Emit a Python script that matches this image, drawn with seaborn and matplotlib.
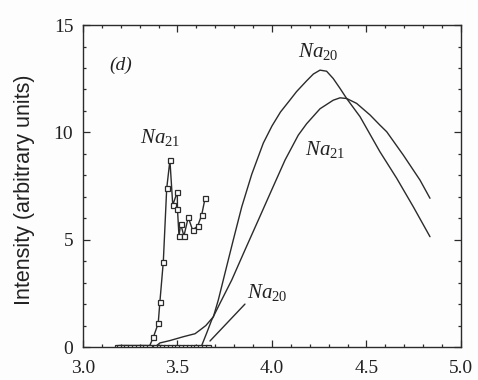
import numpy as np
import pandas as pd
import matplotlib
matplotlib.use("Agg")
import matplotlib.pyplot as plt
from matplotlib.ticker import MultipleLocator
import seaborn as sns

# Measured spectra (open squares)
na21_exp_x = [3.19, 3.21, 3.23, 3.25, 3.27, 3.29, 3.31, 3.33, 3.35, 3.372, 3.398, 3.407,
              3.425, 3.443, 3.46, 3.475, 3.499, 3.50, 3.508, 3.517, 3.534, 3.557, 3.58,
              3.607, 3.628, 3.646]
na21_exp_y = [0, 0, 0, 0, 0, 0, 0, 0, 0, 0.45, 1.10, 2.11,
              3.97, 7.39, 8.70, 6.61, 7.23, 6.41, 5.17, 5.73, 5.17, 6.04, 5.45,
              5.64, 6.15, 6.93]

na20_exp_x = [3.18, 3.20, 3.22, 3.24, 3.26, 3.28, 3.30, 3.32, 3.34, 3.36, 3.38, 3.40, 3.42,
              3.44, 3.46, 3.48, 3.50, 3.52, 3.54, 3.56, 3.58, 3.60, 3.62, 3.64, 3.66]
na20_exp_y = [0] * len(na20_exp_x)

# Calculated spectra (solid curves)
na20_th_x = [3.38, 3.407, 3.46, 3.531, 3.593, 3.619, 3.65, 3.69, 3.716, 3.751, 3.795,
             3.840, 3.893, 3.954, 4.00, 4.045, 4.09, 4.13, 4.183, 4.219, 4.254, 4.289,
             4.324, 4.36, 4.395, 4.466, 4.571, 4.66, 4.748, 4.836]
na20_th_y = [0.0, 0.19, 0.30, 0.48, 0.62, 0.79, 1.00, 1.41, 2.19, 3.43, 4.98,
             6.53, 8.05, 9.50, 10.30, 10.95, 11.45, 11.90, 12.40, 12.72, 12.90, 12.85,
             12.51, 12.05, 11.58, 10.73, 9.10, 7.86, 6.53, 5.14]

na21_th_x = [3.625, 3.654, 3.681, 3.725, 3.787, 3.857, 3.928, 3.998, 4.069, 4.139, 4.183,
             4.254, 4.324, 4.36, 4.395, 4.448, 4.519, 4.571, 4.607, 4.695, 4.783, 4.836]
na21_th_y = [0.0, 0.64, 1.26, 2.04, 3.12, 4.52, 5.92, 7.31, 8.71, 9.87, 10.40,
             11.10, 11.50, 11.61, 11.58, 11.35, 10.81, 10.34, 10.03, 8.94, 7.78, 6.93]

x_ticks = [3.0, 3.5, 4.0, 4.5, 5.0]
x_tick_labels = ["3.0", "3.5", "4.0", "4.5", "5.0"]
y_ticks = [0, 5, 10, 15]
y_tick_labels = ["0", "5", "10", "15"]

sns.set_theme(style="ticks")
plt.rcParams["font.family"] = ["Liberation Serif", "DejaVu Serif"]
plt.rcParams["mathtext.fontset"] = "custom"
plt.rcParams["mathtext.it"] = "Liberation Serif:italic"
plt.rcParams["mathtext.rm"] = "Liberation Serif"

ink = "#2b2b2b"
bg = "#fdfdfd"

fig = plt.figure(figsize=(4.78, 3.80), dpi=100, facecolor=bg)
ax = fig.add_axes([0.1736, 0.0868, 0.7908, 0.8472], facecolor=bg)

exp21 = pd.DataFrame({"x": na21_exp_x, "y": na21_exp_y})
exp20 = pd.DataFrame({"x": na20_exp_x, "y": na20_exp_y})
th20 = pd.DataFrame({"x": na20_th_x, "y": na20_th_y})
th21 = pd.DataFrame({"x": na21_th_x, "y": na21_th_y})

line_kw = dict(color=ink, linewidth=1.0, ax=ax, sort=False, estimator=None)
sns.lineplot(data=th20, x="x", y="y", solid_joinstyle="round", **line_kw)
sns.lineplot(data=th21, x="x", y="y", solid_joinstyle="round", **line_kw)
marker_kw = dict(marker="s", markersize=3.6, markerfacecolor=bg,
                 markeredgecolor=ink, markeredgewidth=0.9)
sns.lineplot(data=exp20, x="x", y="y", **line_kw, **marker_kw)
sns.lineplot(data=exp21, x="x", y="y", **line_kw, **marker_kw)

ax.set_xlim(3.0, 5.0)
ax.set_ylim(0, 15)
ax.set_xticks(x_ticks)
ax.set_xticklabels(x_tick_labels)
ax.set_yticks(y_ticks)
ax.set_yticklabels(y_tick_labels)
ax.xaxis.set_minor_locator(MultipleLocator(0.1))
ax.yaxis.set_minor_locator(MultipleLocator(1))
ax.tick_params(which="both", direction="in", top=True, right=True, colors=ink,
               width=0.9)
ax.tick_params(which="major", length=5, labelsize=14, labelcolor="#222222")
ax.tick_params(which="minor", length=2.5)
ax.tick_params(axis="x", which="major", pad=9)
ax.tick_params(axis="y", which="major", pad=7)
for s in ax.spines.values():
    s.set_visible(True)
    s.set_color(ink)
    s.set_linewidth(1.0)

ax.set_xlabel("")
ax.set_ylabel("Intensity (arbitrary units)", family=["Liberation Sans", "DejaVu Sans"],
              fontsize=15.5, color="#222222")
ax.yaxis.set_label_coords(-0.126, 0.49)

lab = dict(fontsize=15, color="#222222", ha="center", va="center")
ax.text(3.407, 9.78, r"$\mathit{Na}_{\mathit{21}}$", **lab)
ax.text(4.243, 13.79, r"$\mathit{Na}_{\mathit{20}}$", **lab)
ax.text(4.28, 9.22, r"$\mathit{Na}_{\mathit{21}}$", **lab)
ax.text(3.974, 2.52, r"$\mathit{Na}_{\mathit{20}}$", **lab)
ax.annotate("", xy=(3.672, 0.28), xytext=(3.857, 2.0),
            arrowprops=dict(arrowstyle="-", color=ink, linewidth=1.0,
                            shrinkA=0, shrinkB=0))
ax.text(3.20, 13.13, "(d)", fontsize=14, style="italic", color="#222222",
        ha="center", va="center")

fig.savefig("out.png", dpi=100, facecolor=bg)
